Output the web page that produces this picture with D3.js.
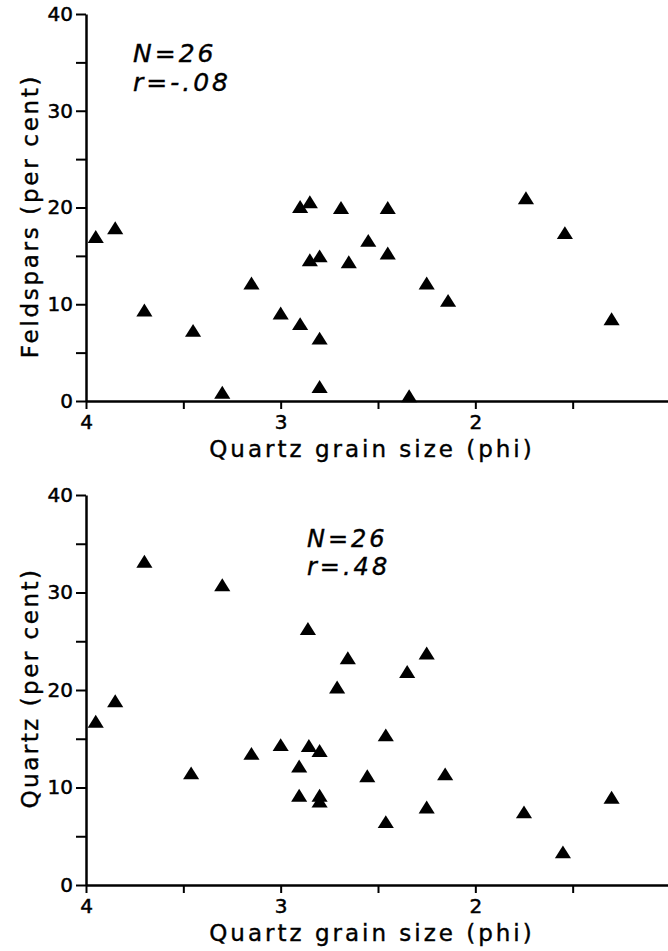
<!DOCTYPE html>
<html>
<head>
<meta charset="utf-8">
<script src="https://cdn.jsdelivr.net/npm/d3@7"></script>
<style>
  body { margin: 0; background: #fff; }
  svg { display: block; }
  .axis text { font-family: "DejaVu Sans", sans-serif; font-size: 20px; fill: #000; stroke: #000; stroke-width: 0.5px; }
  .axis path, .axis line { stroke: #000; }
  .lbl { font-family: "DejaVu Sans", sans-serif; fill: #000; stroke: #000; stroke-width: 0.4px; }
</style>
</head>
<body>
<svg id="chart" width="668" height="951"></svg>
<script>
// top panel: feldspars vs quartz grain size
const grainTop = [3.95, 3.85, 3.70, 3.45, 3.30, 3.15, 3.00, 2.90, 2.80, 2.80, 2.90, 2.85, 2.85,
                  2.80, 2.69, 2.65, 2.55, 2.45, 2.45, 2.25, 2.14, 2.34, 1.74, 1.54, 1.30];
const feldspars = [17.0, 17.9, 9.4, 7.3, 0.9, 12.2, 9.1, 8.0, 6.5, 1.5, 20.1, 20.6, 14.6,
                   15.0, 20.0, 14.4, 16.6, 20.0, 15.3, 12.2, 10.4, 0.55, 21.0, 17.4, 8.5];

// bottom panel: quartz vs quartz grain size
const grainBottom = [3.95, 3.85, 3.70, 3.30, 2.86, 2.655, 2.25, 2.35, 2.71, 3.15, 3.46, 3.00, 2.855,
                     2.80, 2.905, 2.905, 2.80, 2.80, 2.46, 2.555, 2.155, 2.25, 2.46, 1.75, 1.55, 1.30];
const quartz = [16.8, 18.9, 33.2, 30.8, 26.3, 23.3, 23.8, 21.9, 20.3, 13.5, 11.5, 14.4, 14.3,
                13.8, 12.2, 9.2, 9.2, 8.6, 15.4, 11.2, 11.4, 8.0, 6.5, 7.5, 3.4, 9.0];

const xTicks = [4, 3.5, 3, 2.5, 2, 1.5, 1];
const xTickLabels = {4: "4", 3: "3", 2: "2"};
const yTicks = [0, 5, 10, 15, 20, 25, 30, 35, 40];
const yTickLabels = {0: "0", 10: "10", 20: "20", 30: "30", 40: "40"};
const xLabel = "Quartz grain size (phi)";

const svg = d3.select("#chart");

// x scale shared by both panels (phi runs backwards)
const x = d3.scaleLinear().domain([4, 1]).range([86, 670]);

// triangle whose bounding box is centred on the point
const triangle = {
    draw(context, size) {
        const w = Math.sqrt(size) * 1.1, h = w * 0.8;
        context.moveTo(0, -h / 2);
        context.lineTo(w / 2, h / 2);
        context.lineTo(-w / 2, h / 2);
        context.closePath();
    }
};

function drawPanel(cfg) {
    const y = d3.scaleLinear().domain([0, 40]).range([cfg.bottom, cfg.top]);
    const g = svg.append("g");

    // y axis
    const yAxis = g.append("g")
        .attr("class", "axis")
        .attr("transform", `translate(${x(4)},0)`)
        .call(d3.axisLeft(y)
            .tickValues(yTicks)
            .tickSize(10)
            .tickPadding(3)
            .tickSizeOuter(0)
            .tickFormat(d => yTickLabels[d] || ""));
    yAxis.select(".domain").attr("stroke-width", 2.5);
    yAxis.selectAll(".tick line").attr("stroke-width", 2);

    // x axis
    const xAxis = g.append("g")
        .attr("class", "axis")
        .attr("transform", `translate(0,${cfg.bottom})`)
        .call(d3.axisBottom(x)
            .tickValues(xTicks)
            .tickSize(8)
            .tickPadding(6)
            .tickSizeOuter(0)
            .tickFormat(d => xTickLabels[d] || ""));
    xAxis.select(".domain").attr("stroke-width", 2.5);
    xAxis.selectAll(".tick line").attr("stroke-width", 2);

    // axis titles
    g.append("text")
        .attr("class", "lbl")
        .attr("transform", `translate(38,${cfg.yLabelMid}) rotate(-90)`)
        .attr("text-anchor", "middle")
        .style("font-size", "23px")
        .style("letter-spacing", cfg.yLabelSpacing)
        .text(cfg.yLabel);

    g.append("text")
        .attr("class", "lbl")
        .attr("x", 372)
        .attr("y", cfg.bottom + 56)
        .attr("text-anchor", "middle")
        .style("font-size", "23px")
        .style("letter-spacing", "3px")
        .text(xLabel);

    // N and r annotation, one text per line
    [cfg.n, cfg.r].forEach((t, i) => {
        g.append("text")
            .attr("class", "lbl")
            .attr("x", cfg.noteX)
            .attr("y", cfg.noteY + i * cfg.noteGap)
            .style("font-style", "italic")
            .style("font-size", cfg.noteSize + "px")
            .style("letter-spacing", "3px")
            .text(t);
    });

    // points
    g.selectAll("path.pt")
        .data(d3.zip(cfg.xs, cfg.ys))
        .join("path")
        .attr("class", "pt")
        .attr("transform", d => `translate(${x(d[0])},${y(d[1])})`)
        .attr("d", d3.symbol(triangle, 215))
        .attr("fill", "#000");
}

drawPanel({
    xs: grainTop, ys: feldspars,
    top: 14, bottom: 401,
    yLabel: "Feldspars (per cent)", yLabelMid: 216, yLabelSpacing: "2.7px",
    n: "N=26", r: "r=-.08",
    noteX: 133, noteY: 62, noteGap: 29, noteSize: 25
});

drawPanel({
    xs: grainBottom, ys: quartz,
    top: 495, bottom: 885,
    yLabel: "Quartz (per cent)", yLabelMid: 688, yLabelSpacing: "2.5px",
    n: "N=26", r: "r=.48",
    noteX: 307, noteY: 547, noteGap: 28, noteSize: 24
});
</script>
</body>
</html>
